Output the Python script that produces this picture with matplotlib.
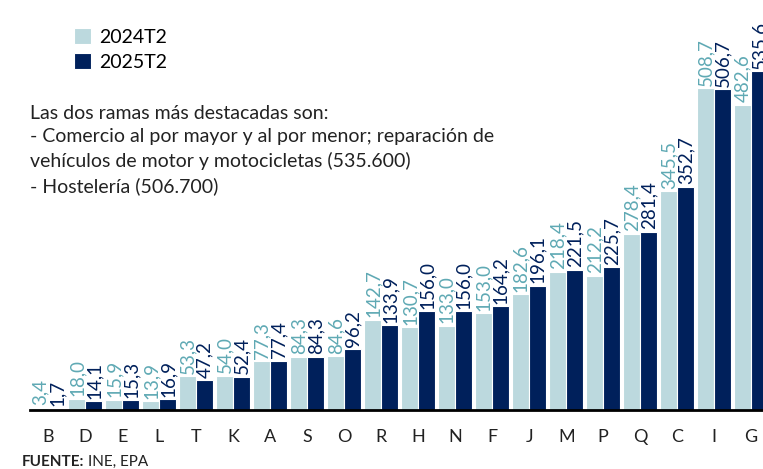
import matplotlib.pyplot as plt
import numpy as np

plt.rcParams['font.family'] = ['Lato', 'DejaVu Sans']

ramas = ['B', 'D', 'E', 'L', 'T', 'K', 'A', 'S', 'O', 'R',
         'H', 'N', 'F', 'J', 'M', 'P', 'Q', 'C', 'I', 'G']
t2024 = [3.4, 18.0, 15.9, 13.9, 53.3, 54.0, 77.3, 84.3, 84.6, 142.7,
         130.7, 133.0, 153.0, 182.6, 218.4, 212.2, 278.4, 345.5, 508.7, 482.6]
t2025 = [1.7, 14.1, 15.3, 16.9, 47.2, 52.4, 77.4, 84.3, 96.2, 133.9,
         156.0, 156.0, 164.2, 196.1, 221.5, 225.7, 281.4, 352.7, 506.7, 535.6]

light = '#bcd9de'
dark = '#00205b'
light_txt = '#5fa9b4'

fig = plt.figure(figsize=(7.63, 4.69), dpi=100)
ax = fig.add_axes([30 / 763, 59 / 469, 733 / 763, 410 / 469])

x = np.arange(len(ramas))
w = 0.46
b1 = ax.bar(x - w / 2, t2024, w, color=light, edgecolor='white', linewidth=0.8, label='2024T2')
b2 = ax.bar(x + w / 2, t2025, w, color=dark, edgecolor='white', linewidth=0.8, label='2025T2')

def fmt(v):
    return f'{v:.1f}'.replace('.', ',')

for xi, v in zip(x, t2024):
    ax.text(xi - w / 2, v + 4, fmt(v), rotation=90, ha='center', va='bottom',
            color=light_txt, fontsize=13.5)
for xi, v in zip(x, t2025):
    ax.text(xi + w / 2, v + 4, fmt(v), rotation=90, ha='center', va='bottom',
            color=dark, fontsize=13.5)

ax.set_xlim(-0.5, 19.32)
ax.set_ylim(0, 648)
ax.set_xticks(x)
ax.set_xticklabels(ramas, fontsize=13, color='#222222')
ax.tick_params(axis='x', length=0, pad=14)
ax.set_yticks([])
for s in ['top', 'right', 'left']:
    ax.spines[s].set_visible(False)
ax.spines['bottom'].set_linewidth(2)
ax.spines['bottom'].set_color('black')

fig.legend(handles=[b1, b2], loc='upper left', bbox_to_anchor=(66 / 763, 1 - 20 / 469),
           frameon=False, fontsize=14, handlelength=0.9, handleheight=0.9,
           handletextpad=0.4, labelspacing=0.4, borderaxespad=0)

nota = ('Las dos ramas más destacadas son:\n'
        '- Comercio al por mayor y al por menor; reparación de\n'
        'vehículos de motor y motocicletas (535.600)\n'
        '- Hostelería (506.700)')
fig.text(30 / 763, 1 - 105 / 469, nota, ha='left', va='top', fontsize=14,
         color='#222222', linespacing=1.45)

t1 = fig.text(22 / 763, 1 - 462 / 469, 'FUENTE:', ha='left', va='center',
              fontsize=11, fontweight='bold', color='#222222')
fig.canvas.draw()
bb = t1.get_window_extent()
fig.text((bb.x1 + 4) / 763, 1 - 462 / 469, 'INE, EPA', ha='left', va='center',
         fontsize=11, color='#222222')

fig.savefig('out.png', dpi=100)
